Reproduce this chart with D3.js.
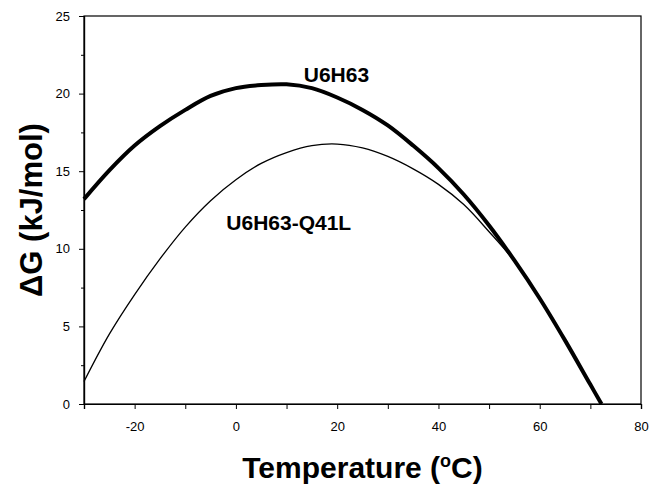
<!DOCTYPE html>
<html><head><meta charset="utf-8">
<script src="https://cdn.jsdelivr.net/npm/d3@7"></script>
<style>body{margin:0;background:#fff}svg{display:block}</style>
</head><body><svg id="c" width="650" height="484"></svg>
<script>
const temps = [-30,-25,-20,-15,-10,-5,0,5,10,15,20,25,30,35,40,45,50,55,60,65,70,72.2];
const u6h63 = [13.2,15.05,16.65,17.9,18.95,19.85,20.35,20.55,20.6,20.35,19.75,18.95,17.95,16.65,15.2,13.5,11.5,9.25,6.8,4.1,1.25,0];
const q41l  = [1.45,4.5,7.05,9.35,11.4,13.1,14.45,15.5,16.2,16.65,16.75,16.5,15.95,15.15,14.15,12.85,11.1,9.2,6.75,4.08,1.25,0];
const xTicks = [-20,0,20,40,60,80];
const xMinor = [-30,-10,10,30,50,70];
const yTicks = [0,5,10,15,20,25];
const yMinor = [2.5,7.5,12.5,17.5,22.5];
const labels = [{text:"U6H63", t:13.4, v:20.75}, {text:"U6H63-Q41L", t:-1.9, v:11.2}];

const svg = d3.select("#c");
const m = {l:84, t:16, r:641, b:404};
const x = d3.scaleLinear().domain([-30,80]).range([m.l, m.r]);
const y = d3.scaleLinear().domain([0,25]).range([m.b, m.t]);
const font = "'Liberation Sans', Arial, Helvetica, sans-serif";
const fmt = d => (d < 0 ? "-" : "") + Math.abs(d);

// frame
svg.append("rect").attr("x", m.l).attr("y", m.t).attr("width", m.r-m.l).attr("height", m.b-m.t)
  .attr("fill","none").attr("stroke","#000").attr("stroke-width",1.2);

// x axis
const gx = svg.append("g").attr("transform",`translate(0,${m.b})`);
gx.append("g").call(d3.axisBottom(x).tickValues(xMinor).tickSize(5).tickFormat(""));
gx.append("g").call(d3.axisBottom(x).tickValues(xTicks).tickSize(5).tickPadding(13).tickFormat(fmt));
// y axis
const gy = svg.append("g").attr("transform",`translate(${m.l},0)`);
gy.append("g").call(d3.axisLeft(y).tickValues(yMinor).tickSize(3).tickFormat(""));
gy.append("g").call(d3.axisLeft(y).tickValues(yTicks).tickSize(5).tickPadding(9).tickFormat(fmt));
svg.selectAll(".domain").attr("stroke","#000").attr("stroke-width",1.2);
svg.selectAll(".tick line").attr("stroke","#000").attr("stroke-width",1);
svg.selectAll(".tick text").attr("font-family",font).attr("font-size",13).attr("fill","#000");

// lines
const line = vals => d3.line().x((d,i)=>x(temps[i])).y(d=>y(d)).curve(d3.curveCatmullRom.alpha(0.5))(vals);
svg.append("path").attr("d", line(q41l)).attr("fill","none").attr("stroke","#000").attr("stroke-width",1.3);
svg.append("path").attr("d", line(u6h63)).attr("fill","none").attr("stroke","#000").attr("stroke-width",4).attr("stroke-linejoin","round");

// series labels
svg.selectAll(".slab").data(labels).enter().append("text")
  .attr("x", d=>x(d.t)).attr("y", d=>y(d.v))
  .attr("font-family",font).attr("font-weight","bold").attr("font-size",21).attr("fill","#000")
  .text(d=>d.text);

// axis titles
const xt = svg.append("text").attr("x",(m.l+m.r)/2).attr("y",478).attr("text-anchor","middle")
  .attr("font-family",font).attr("font-weight","bold").attr("font-size",30).attr("fill","#000");
xt.append("tspan").text("Temperature (");
xt.append("tspan").attr("font-size",18).attr("dy",-11).text("o");
xt.append("tspan").attr("dy",11).text("C)");

svg.append("text").attr("transform",`translate(42,${(m.t+m.b)/2}) rotate(-90)`).attr("text-anchor","middle")
  .attr("font-family",font).attr("font-weight","bold").attr("font-size",31).attr("fill","#000")
  .text("ΔG (kJ/mol)");
</script></body></html>
